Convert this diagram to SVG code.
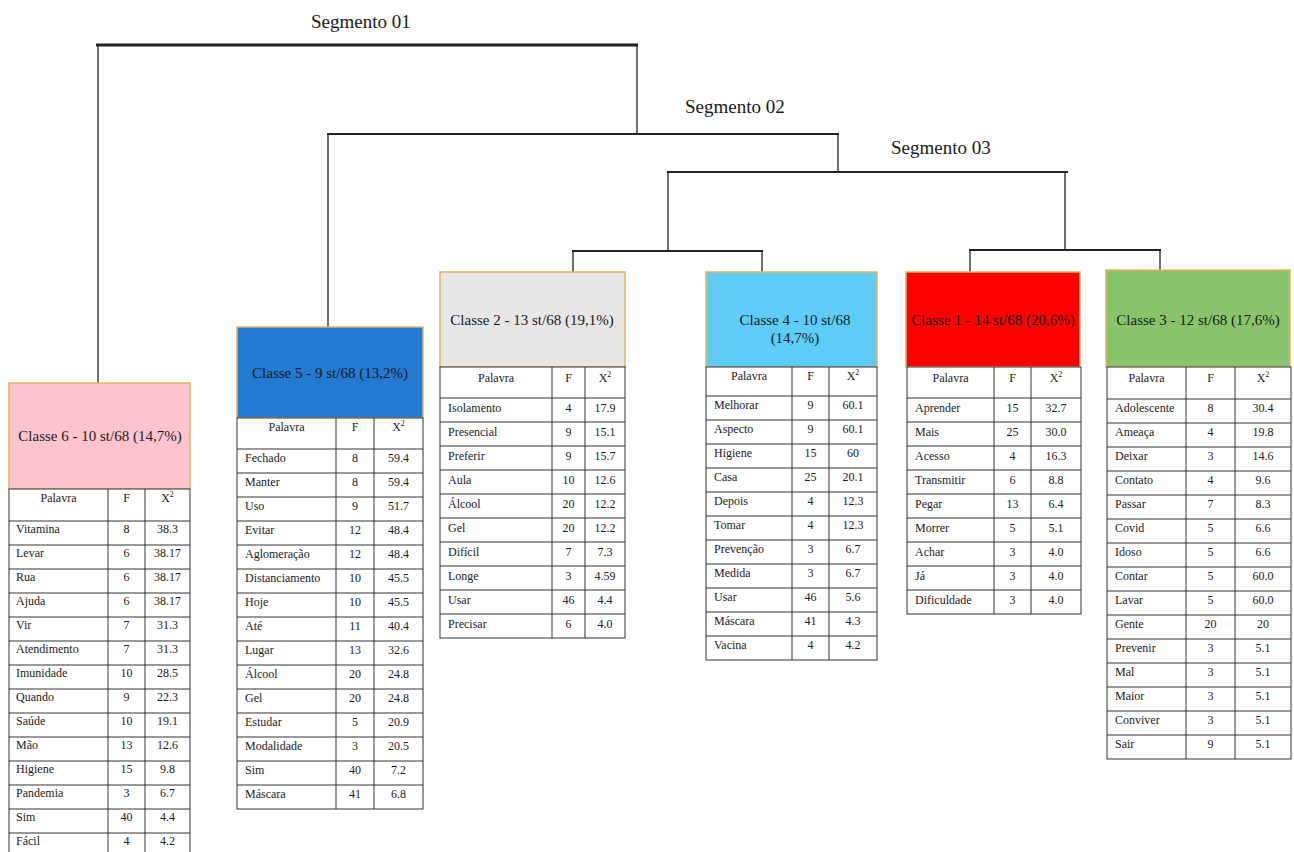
<svg xmlns="http://www.w3.org/2000/svg" width="1294" height="852" viewBox="0 0 1294 852">
<style>
.seg{font-family:"Liberation Serif",serif;font-size:19px;fill:#1a1a1a}
.ttl{font-family:"Liberation Serif",serif;font-size:15px;fill:#1a1a1a;text-anchor:middle}
.c{font-family:"Liberation Serif",serif;font-size:12px;fill:#1a1a1a}
.m{text-anchor:middle}
.box{stroke:#E2B466;stroke-width:1.5}
.grid{fill:#fff;stroke:#333;stroke-width:1}
.gl{fill:none;stroke:#333;stroke-width:1}
.ln{stroke:#222;stroke-width:1.3;fill:none}
.hl{stroke:#222;stroke-width:2.2;fill:none}
</style>
<rect width="1294" height="852" fill="#fff"/>
<g id="connectors">
<line class="hl" x1="96" y1="45" x2="638" y2="45" style="stroke-width:3.2"/>
<line class="ln" x1="98" y1="45" x2="98" y2="383"/>
<line class="ln" x1="637" y1="45" x2="637" y2="134"/>
<line class="hl" x1="327" y1="134" x2="839" y2="134"/>
<line class="ln" x1="328" y1="134" x2="328" y2="327"/>
<line class="ln" x1="838" y1="134" x2="838" y2="172"/>
<line class="hl" x1="667" y1="172" x2="1068" y2="172"/>
<line class="ln" x1="668" y1="172" x2="668" y2="251"/>
<line class="ln" x1="1065" y1="172" x2="1065" y2="250"/>
<line class="hl" x1="572" y1="251" x2="763" y2="251"/>
<line class="ln" x1="573" y1="251" x2="573" y2="272"/>
<line class="ln" x1="762" y1="251" x2="762" y2="272"/>
<line class="hl" x1="969" y1="250" x2="1161" y2="250"/>
<line class="ln" x1="970" y1="250" x2="970" y2="272"/>
<line class="ln" x1="1160" y1="250" x2="1160" y2="270"/>
</g>
<g id="labels">
<text class="seg" x="311" y="28">Segmento 01</text>
<text class="seg" x="685" y="113">Segmento 02</text>
<text class="seg" x="891" y="154">Segmento 03</text>
</g>

<g id="classe6">
<rect class="box" x="9" y="383" width="181" height="106" fill="#FFC4CE"/>
<text class="ttl" x="100" y="441">Classe 6 - 10 st/68 (14,7%)</text>
<rect class="grid" x="9" y="489" width="181" height="368"/>
<path class="gl" d="M108 489V857M145 489V857M9 521H190M9 545H190M9 569H190M9 593H190M9 617H190M9 641H190M9 665H190M9 689H190M9 713H190M9 737H190M9 761H190M9 785H190M9 809H190M9 833H190"/>
<text class="c m" x="58.5" y="502">Palavra</text><text class="c m" x="126.5" y="502">F</text><text class="c m" x="167.5" y="502">X<tspan font-size="8" dy="-5">2</tspan></text>
<text class="c" x="16" y="533">Vitamina</text><text class="c m" x="126.5" y="533">8</text><text class="c m" x="167.5" y="533">38.3</text>
<text class="c" x="16" y="557">Levar</text><text class="c m" x="126.5" y="557">6</text><text class="c m" x="167.5" y="557">38.17</text>
<text class="c" x="16" y="581">Rua</text><text class="c m" x="126.5" y="581">6</text><text class="c m" x="167.5" y="581">38.17</text>
<text class="c" x="16" y="605">Ajuda</text><text class="c m" x="126.5" y="605">6</text><text class="c m" x="167.5" y="605">38.17</text>
<text class="c" x="16" y="629">Vir</text><text class="c m" x="126.5" y="629">7</text><text class="c m" x="167.5" y="629">31.3</text>
<text class="c" x="16" y="653">Atendimento</text><text class="c m" x="126.5" y="653">7</text><text class="c m" x="167.5" y="653">31.3</text>
<text class="c" x="16" y="677">Imunidade</text><text class="c m" x="126.5" y="677">10</text><text class="c m" x="167.5" y="677">28.5</text>
<text class="c" x="16" y="701">Quando</text><text class="c m" x="126.5" y="701">9</text><text class="c m" x="167.5" y="701">22.3</text>
<text class="c" x="16" y="725">Saúde</text><text class="c m" x="126.5" y="725">10</text><text class="c m" x="167.5" y="725">19.1</text>
<text class="c" x="16" y="749">Mão</text><text class="c m" x="126.5" y="749">13</text><text class="c m" x="167.5" y="749">12.6</text>
<text class="c" x="16" y="773">Higiene</text><text class="c m" x="126.5" y="773">15</text><text class="c m" x="167.5" y="773">9.8</text>
<text class="c" x="16" y="797">Pandemia</text><text class="c m" x="126.5" y="797">3</text><text class="c m" x="167.5" y="797">6.7</text>
<text class="c" x="16" y="821">Sim</text><text class="c m" x="126.5" y="821">40</text><text class="c m" x="167.5" y="821">4.4</text>
<text class="c" x="16" y="845">Fácil</text><text class="c m" x="126.5" y="845">4</text><text class="c m" x="167.5" y="845">4.2</text>
</g>

<g id="classe5">
<rect class="box" x="237" y="327" width="186" height="91" fill="#2479D0"/>
<text class="ttl" x="330" y="378">Classe 5 - 9 st/68 (13,2%)</text>
<rect class="grid" x="237" y="418" width="186" height="391"/>
<path class="gl" d="M336 418V809M374 418V809M237 449H423M237 473H423M237 497H423M237 521H423M237 545H423M237 569H423M237 593H423M237 617H423M237 641H423M237 665H423M237 689H423M237 713H423M237 737H423M237 761H423M237 785H423"/>
<text class="c m" x="286.5" y="431">Palavra</text><text class="c m" x="355" y="431">F</text><text class="c m" x="398.5" y="431">X<tspan font-size="8" dy="-5">2</tspan></text>
<text class="c" x="245" y="462">Fechado</text><text class="c m" x="355" y="462">8</text><text class="c m" x="398.5" y="462">59.4</text>
<text class="c" x="245" y="486">Manter</text><text class="c m" x="355" y="486">8</text><text class="c m" x="398.5" y="486">59.4</text>
<text class="c" x="245" y="510">Uso</text><text class="c m" x="355" y="510">9</text><text class="c m" x="398.5" y="510">51.7</text>
<text class="c" x="245" y="534">Evitar</text><text class="c m" x="355" y="534">12</text><text class="c m" x="398.5" y="534">48.4</text>
<text class="c" x="245" y="558">Aglomeração</text><text class="c m" x="355" y="558">12</text><text class="c m" x="398.5" y="558">48.4</text>
<text class="c" x="245" y="582">Distanciamento</text><text class="c m" x="355" y="582">10</text><text class="c m" x="398.5" y="582">45.5</text>
<text class="c" x="245" y="606">Hoje</text><text class="c m" x="355" y="606">10</text><text class="c m" x="398.5" y="606">45.5</text>
<text class="c" x="245" y="630">Até</text><text class="c m" x="355" y="630">11</text><text class="c m" x="398.5" y="630">40.4</text>
<text class="c" x="245" y="654">Lugar</text><text class="c m" x="355" y="654">13</text><text class="c m" x="398.5" y="654">32.6</text>
<text class="c" x="245" y="678">Álcool</text><text class="c m" x="355" y="678">20</text><text class="c m" x="398.5" y="678">24.8</text>
<text class="c" x="245" y="702">Gel</text><text class="c m" x="355" y="702">20</text><text class="c m" x="398.5" y="702">24.8</text>
<text class="c" x="245" y="726">Estudar</text><text class="c m" x="355" y="726">5</text><text class="c m" x="398.5" y="726">20.9</text>
<text class="c" x="245" y="750">Modalidade</text><text class="c m" x="355" y="750">3</text><text class="c m" x="398.5" y="750">20.5</text>
<text class="c" x="245" y="774">Sim</text><text class="c m" x="355" y="774">40</text><text class="c m" x="398.5" y="774">7.2</text>
<text class="c" x="245" y="798">Máscara</text><text class="c m" x="355" y="798">41</text><text class="c m" x="398.5" y="798">6.8</text>
</g>

<g id="classe2">
<rect class="box" x="440" y="272" width="185" height="95" fill="#E6E6E6"/>
<text class="ttl" x="532" y="325">Classe 2 - 13 st/68 (19,1%)</text>
<rect class="grid" x="440" y="367" width="185" height="271"/>
<path class="gl" d="M552 367V638M585 367V638M440 398H625M440 422H625M440 446H625M440 470H625M440 494H625M440 518H625M440 542H625M440 566H625M440 590H625M440 614H625"/>
<text class="c m" x="496" y="382">Palavra</text><text class="c m" x="568.5" y="382">F</text><text class="c m" x="605" y="382">X<tspan font-size="8" dy="-5">2</tspan></text>
<text class="c" x="448" y="412">Isolamento</text><text class="c m" x="568.5" y="412">4</text><text class="c m" x="605" y="412">17.9</text>
<text class="c" x="448" y="436">Presencial</text><text class="c m" x="568.5" y="436">9</text><text class="c m" x="605" y="436">15.1</text>
<text class="c" x="448" y="460">Preferir</text><text class="c m" x="568.5" y="460">9</text><text class="c m" x="605" y="460">15.7</text>
<text class="c" x="448" y="484">Aula</text><text class="c m" x="568.5" y="484">10</text><text class="c m" x="605" y="484">12.6</text>
<text class="c" x="448" y="508">Álcool</text><text class="c m" x="568.5" y="508">20</text><text class="c m" x="605" y="508">12.2</text>
<text class="c" x="448" y="532">Gel</text><text class="c m" x="568.5" y="532">20</text><text class="c m" x="605" y="532">12.2</text>
<text class="c" x="448" y="556">Difícil</text><text class="c m" x="568.5" y="556">7</text><text class="c m" x="605" y="556">7.3</text>
<text class="c" x="448" y="580">Longe</text><text class="c m" x="568.5" y="580">3</text><text class="c m" x="605" y="580">4.59</text>
<text class="c" x="448" y="604">Usar</text><text class="c m" x="568.5" y="604">46</text><text class="c m" x="605" y="604">4.4</text>
<text class="c" x="448" y="628">Precisar</text><text class="c m" x="568.5" y="628">6</text><text class="c m" x="605" y="628">4.0</text>
</g>

<g id="classe4">
<rect class="box" x="706" y="272" width="171" height="95" fill="#5DCDF7"/>
<text class="ttl" x="795" y="325">Classe 4 - 10 st/68</text>
<text class="ttl" x="795" y="343">(14,7%)</text>
<rect class="grid" x="706" y="367" width="171" height="293"/>
<path class="gl" d="M792 367V660M829 367V660M706 396H877M706 420H877M706 444H877M706 468H877M706 492H877M706 516H877M706 540H877M706 564H877M706 588H877M706 612H877M706 636H877"/>
<text class="c m" x="749" y="380">Palavra</text><text class="c m" x="810.5" y="380">F</text><text class="c m" x="853" y="380">X<tspan font-size="8" dy="-5">2</tspan></text>
<text class="c" x="714" y="409">Melhorar</text><text class="c m" x="810.5" y="409">9</text><text class="c m" x="853" y="409">60.1</text>
<text class="c" x="714" y="433">Aspecto</text><text class="c m" x="810.5" y="433">9</text><text class="c m" x="853" y="433">60.1</text>
<text class="c" x="714" y="457">Higiene</text><text class="c m" x="810.5" y="457">15</text><text class="c m" x="853" y="457">60</text>
<text class="c" x="714" y="481">Casa</text><text class="c m" x="810.5" y="481">25</text><text class="c m" x="853" y="481">20.1</text>
<text class="c" x="714" y="505">Depois</text><text class="c m" x="810.5" y="505">4</text><text class="c m" x="853" y="505">12.3</text>
<text class="c" x="714" y="529">Tomar</text><text class="c m" x="810.5" y="529">4</text><text class="c m" x="853" y="529">12.3</text>
<text class="c" x="714" y="553">Prevenção</text><text class="c m" x="810.5" y="553">3</text><text class="c m" x="853" y="553">6.7</text>
<text class="c" x="714" y="577">Medida</text><text class="c m" x="810.5" y="577">3</text><text class="c m" x="853" y="577">6.7</text>
<text class="c" x="714" y="601">Usar</text><text class="c m" x="810.5" y="601">46</text><text class="c m" x="853" y="601">5.6</text>
<text class="c" x="714" y="625">Máscara</text><text class="c m" x="810.5" y="625">41</text><text class="c m" x="853" y="625">4.3</text>
<text class="c" x="714" y="649">Vacina</text><text class="c m" x="810.5" y="649">4</text><text class="c m" x="853" y="649">4.2</text>
</g>

<g id="classe1">
<rect class="box" x="906" y="272" width="174" height="95" fill="#FF0000"/>
<text class="ttl" x="993" y="325">Classe 1 - 14 st/68 (20,6%)</text>
<rect class="grid" x="907" y="367" width="174" height="247"/>
<path class="gl" d="M994 367V614M1031 367V614M907 398H1081M907 422H1081M907 446H1081M907 470H1081M907 494H1081M907 518H1081M907 542H1081M907 566H1081M907 590H1081"/>
<text class="c m" x="950.5" y="382">Palavra</text><text class="c m" x="1012.5" y="382">F</text><text class="c m" x="1056" y="382">X<tspan font-size="8" dy="-5">2</tspan></text>
<text class="c" x="915" y="412">Aprender</text><text class="c m" x="1012.5" y="412">15</text><text class="c m" x="1056" y="412">32.7</text>
<text class="c" x="915" y="436">Mais</text><text class="c m" x="1012.5" y="436">25</text><text class="c m" x="1056" y="436">30.0</text>
<text class="c" x="915" y="460">Acesso</text><text class="c m" x="1012.5" y="460">4</text><text class="c m" x="1056" y="460">16.3</text>
<text class="c" x="915" y="484">Transmitir</text><text class="c m" x="1012.5" y="484">6</text><text class="c m" x="1056" y="484">8.8</text>
<text class="c" x="915" y="508">Pegar</text><text class="c m" x="1012.5" y="508">13</text><text class="c m" x="1056" y="508">6.4</text>
<text class="c" x="915" y="532">Morrer</text><text class="c m" x="1012.5" y="532">5</text><text class="c m" x="1056" y="532">5.1</text>
<text class="c" x="915" y="556">Achar</text><text class="c m" x="1012.5" y="556">3</text><text class="c m" x="1056" y="556">4.0</text>
<text class="c" x="915" y="580">Já</text><text class="c m" x="1012.5" y="580">3</text><text class="c m" x="1056" y="580">4.0</text>
<text class="c" x="915" y="604">Dificuldade</text><text class="c m" x="1012.5" y="604">3</text><text class="c m" x="1056" y="604">4.0</text>
</g>

<g id="classe3">
<rect class="box" x="1106" y="270" width="184" height="97" fill="#88C46C"/>
<text class="ttl" x="1198" y="325">Classe 3 - 12 st/68 (17,6%)</text>
<rect class="grid" x="1107" y="367" width="184" height="392"/>
<path class="gl" d="M1186 367V759M1235 367V759M1107 399H1291M1107 423H1291M1107 447H1291M1107 471H1291M1107 495H1291M1107 519H1291M1107 543H1291M1107 567H1291M1107 591H1291M1107 615H1291M1107 639H1291M1107 663H1291M1107 687H1291M1107 711H1291M1107 735H1291"/>
<text class="c m" x="1146.5" y="382">Palavra</text><text class="c m" x="1210.5" y="382">F</text><text class="c m" x="1263" y="382">X<tspan font-size="8" dy="-5">2</tspan></text>
<text class="c" x="1115" y="412">Adolescente</text><text class="c m" x="1210.5" y="412">8</text><text class="c m" x="1263" y="412">30.4</text>
<text class="c" x="1115" y="436">Ameaça</text><text class="c m" x="1210.5" y="436">4</text><text class="c m" x="1263" y="436">19.8</text>
<text class="c" x="1115" y="460">Deixar</text><text class="c m" x="1210.5" y="460">3</text><text class="c m" x="1263" y="460">14.6</text>
<text class="c" x="1115" y="484">Contato</text><text class="c m" x="1210.5" y="484">4</text><text class="c m" x="1263" y="484">9.6</text>
<text class="c" x="1115" y="508">Passar</text><text class="c m" x="1210.5" y="508">7</text><text class="c m" x="1263" y="508">8.3</text>
<text class="c" x="1115" y="532">Covid</text><text class="c m" x="1210.5" y="532">5</text><text class="c m" x="1263" y="532">6.6</text>
<text class="c" x="1115" y="556">Idoso</text><text class="c m" x="1210.5" y="556">5</text><text class="c m" x="1263" y="556">6.6</text>
<text class="c" x="1115" y="580">Contar</text><text class="c m" x="1210.5" y="580">5</text><text class="c m" x="1263" y="580">60.0</text>
<text class="c" x="1115" y="604">Lavar</text><text class="c m" x="1210.5" y="604">5</text><text class="c m" x="1263" y="604">60.0</text>
<text class="c" x="1115" y="628">Gente</text><text class="c m" x="1210.5" y="628">20</text><text class="c m" x="1263" y="628">20</text>
<text class="c" x="1115" y="652">Prevenir</text><text class="c m" x="1210.5" y="652">3</text><text class="c m" x="1263" y="652">5.1</text>
<text class="c" x="1115" y="676">Mal</text><text class="c m" x="1210.5" y="676">3</text><text class="c m" x="1263" y="676">5.1</text>
<text class="c" x="1115" y="700">Maior</text><text class="c m" x="1210.5" y="700">3</text><text class="c m" x="1263" y="700">5.1</text>
<text class="c" x="1115" y="724">Conviver</text><text class="c m" x="1210.5" y="724">3</text><text class="c m" x="1263" y="724">5.1</text>
<text class="c" x="1115" y="748">Sair</text><text class="c m" x="1210.5" y="748">9</text><text class="c m" x="1263" y="748">5.1</text>
</g>
</svg>
